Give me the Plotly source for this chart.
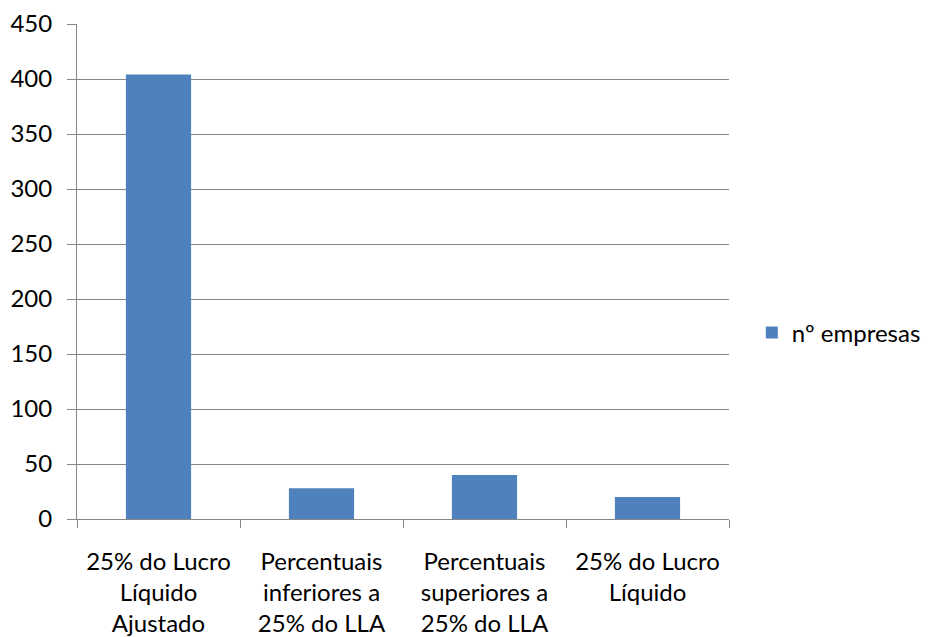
import plotly.graph_objects as go

categories = [
    "25% do Lucro<br>Líquido<br>Ajustado",
    "Percentuais<br>inferiores a<br>25% do LLA",
    "Percentuais<br>superiores a<br>25% do LLA",
    "25% do Lucro<br>Líquido",
]
values = [404, 28, 40, 20]
series_name = "nº empresas"
y_ticks = [0, 50, 100, 150, 200, 250, 300, 350, 400, 450]

FONT = "Lato"
GRID = "#868686"

fig = go.Figure()
fig.add_trace(go.Bar(
    x=categories, y=values, name=series_name,
    marker=dict(color="#4F81BD", line=dict(width=0)),
    showlegend=True,
))

fig.update_layout(
    width=928, height=637,
    margin=dict(l=77, r=199, t=24, b=118, autoexpand=False),
    paper_bgcolor="white", plot_bgcolor="white",
    font=dict(family=FONT, size=24, color="#000000"),
    bargap=0.6,
    showlegend=True,
    legend=dict(
        x=1.035, y=0.376, xanchor="left", yanchor="middle",
        font=dict(family=FONT, size=24, color="#000000"),
        bgcolor="rgba(0,0,0,0)", borderwidth=0,
        itemwidth=30,
    ),
)

fig.update_xaxes(
    type="category",
    showline=True, linecolor=GRID, linewidth=1,
    ticks="outside", ticklen=8, tickcolor=GRID, tickwidth=1,
    tickson="boundaries",
    showgrid=False,
    tickfont=dict(family=FONT, size=24),
    ticklabelstandoff=21,
    mirror=False,
)
fig.update_yaxes(
    range=[0, 450],
    tickvals=y_ticks,
    ticktext=[str(v) for v in y_ticks],
    showline=True, linecolor=GRID, linewidth=1,
    ticks="outside", ticklen=9, tickcolor=GRID, tickwidth=1,
    showgrid=True, gridcolor=GRID, gridwidth=1,
    zeroline=False,
    tickfont=dict(family=FONT, size=24),
    ticklabelstandoff=10,
)

fig.write_html("out.html")
